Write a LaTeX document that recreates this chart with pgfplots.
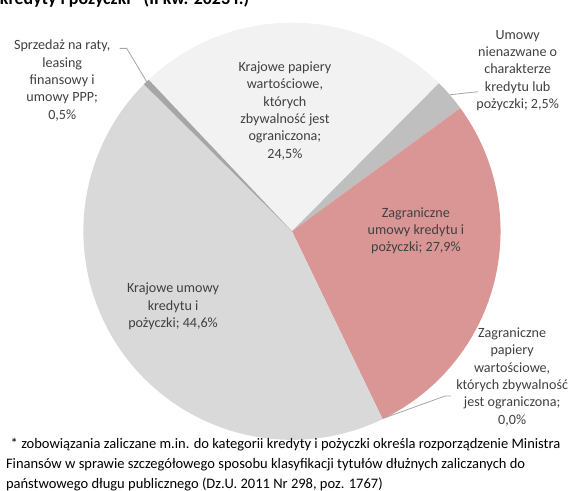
\documentclass[border=0pt]{standalone}
\usepackage{pgfplots}
\pgfplotsset{compat=1.18}
\usepackage{fontspec}
\setmainfont{Carlito}
\definecolor{cKP}{HTML}{F2F2F2}
\definecolor{cUN}{HTML}{BFBFBF}
\definecolor{cZU}{HTML}{DA9694}
\definecolor{cKU}{HTML}{D9D9D9}
\definecolor{cSR}{HTML}{A6A6A6}
\definecolor{lab}{HTML}{404040}
\definecolor{lead}{HTML}{A6A6A6}
% shares (%), clockwise order
\def\vKP{24.5}
\def\vUN{2.5}
\def\vZU{27.9}
\def\vZP{0.0}
\def\vKU{44.6}
\def\vSR{0.5}
\pgfmathsetmacro\aA{133.4}
\pgfmathsetmacro\aB{\aA-3.6*\vKP}
\pgfmathsetmacro\aC{\aB-3.6*\vUN}
\pgfmathsetmacro\aD{\aC-3.6*\vZU}
\pgfmathsetmacro\aE{\aD-3.6*\vZP}
\pgfmathsetmacro\aF{\aE-3.6*\vKU}
\pgfmathsetmacro\aG{\aF-3.6*\vSR}
\def\cx{291}
\def\cy{-229.5}
\def\R{207}
\begin{document}
\begin{tikzpicture}
\begin{axis}[x=0.75pt, y=0.75pt, xmin=0, xmax=568, ymin=-495, ymax=0,
  scale only axis, hide axis, clip=true]
\addplot[fill=cKP, draw=none, domain=\aB:\aA, samples=90, variable=\t]
  ({\cx+\R*cos(\t)}, {\cy+\R*sin(\t)}) -- (axis cs:\cx,\cy) -- cycle;
\addplot[fill=cUN, draw=none, domain=\aC:\aB, samples=20, variable=\t]
  ({\cx+\R*cos(\t)}, {\cy+\R*sin(\t)}) -- (axis cs:\cx,\cy) -- cycle;
\addplot[fill=cZU, draw=none, domain=\aD:\aC, samples=100, variable=\t]
  ({\cx+\R*cos(\t)}, {\cy+\R*sin(\t)}) -- (axis cs:\cx,\cy) -- cycle;
\addplot[fill=cKU, draw=none, domain=\aF:\aE, samples=150, variable=\t]
  ({\cx+\R*cos(\t)}, {\cy+\R*sin(\t)}) -- (axis cs:\cx,\cy) -- cycle;
\addplot[fill=cSR, draw=none, domain=\aG:\aF, samples=10, variable=\t]
  ({\cx+\R*cos(\t)}, {\cy+\R*sin(\t)}) -- (axis cs:\cx,\cy) -- cycle;
% leader lines
\draw[lead, line width=0.6pt] (axis cs:120,-48) -- (axis cs:127,-48) -- (axis cs:148,-83);
\draw[lead, line width=0.6pt] (axis cs:448,-94) -- (axis cs:476,-91);
\draw[lead, line width=0.6pt] (axis cs:382,-415) -- (axis cs:443,-393) -- (axis cs:449,-393);
% labels
\begin{scope}[every node/.style={align=center, text=lab, font=\fontsize{10.5}{12.9}\selectfont, inner sep=0pt}]
\node at (axis cs:284,-110) {Krajowe papiery\\wartościowe,\\których\\zbywalność jest\\ograniczona;\\24,5\%};
\node at (axis cs:414,-229) {Zagraniczne\\umowy kredytu i\\pożyczki; 27,9\%};
\node at (axis cs:173,-304) {Krajowe umowy\\kredytu i\\pożyczki; 44,6\%};
\node at (axis cs:63,-80) {Sprzedaż na raty,\\leasing\\finansowy i\\umowy PPP;\\0,5\%};
\node at (axis cs:515,-70) {Umowy\\nienazwane o\\charakterze\\kredytu lub\\pożyczki; 2,5\%};
\node at (axis cs:509.5,-374) {Zagraniczne\\papiery\\wartościowe,\\których zbywalność\\jest ograniczona;\\0,0\%};
\end{scope}
% title (cut at top, as in the source)
\node[anchor=base west, inner sep=0pt, font=\bfseries\fontsize{13.3}{16}\selectfont] at (axis cs:1,-4) {kredyty i pożyczki* (II kw. 2023 r.)};
% footnote
\node[anchor=north west, align=left, inner sep=0pt, font=\fontsize{10.8}{14.6}\selectfont] at (axis cs:7,-435)
  {\hspace*{3.5pt}* zobowiązania zaliczane m.in. do kategorii kredyty i pożyczki określa rozporządzenie Ministra\\
  Finansów w sprawie szczegółowego sposobu klasyfikacji tytułów dłużnych zaliczanych do\\
  państwowego długu publicznego (Dz.U. 2011 Nr 298, poz. 1767)};
\end{axis}
\end{tikzpicture}
\end{document}
